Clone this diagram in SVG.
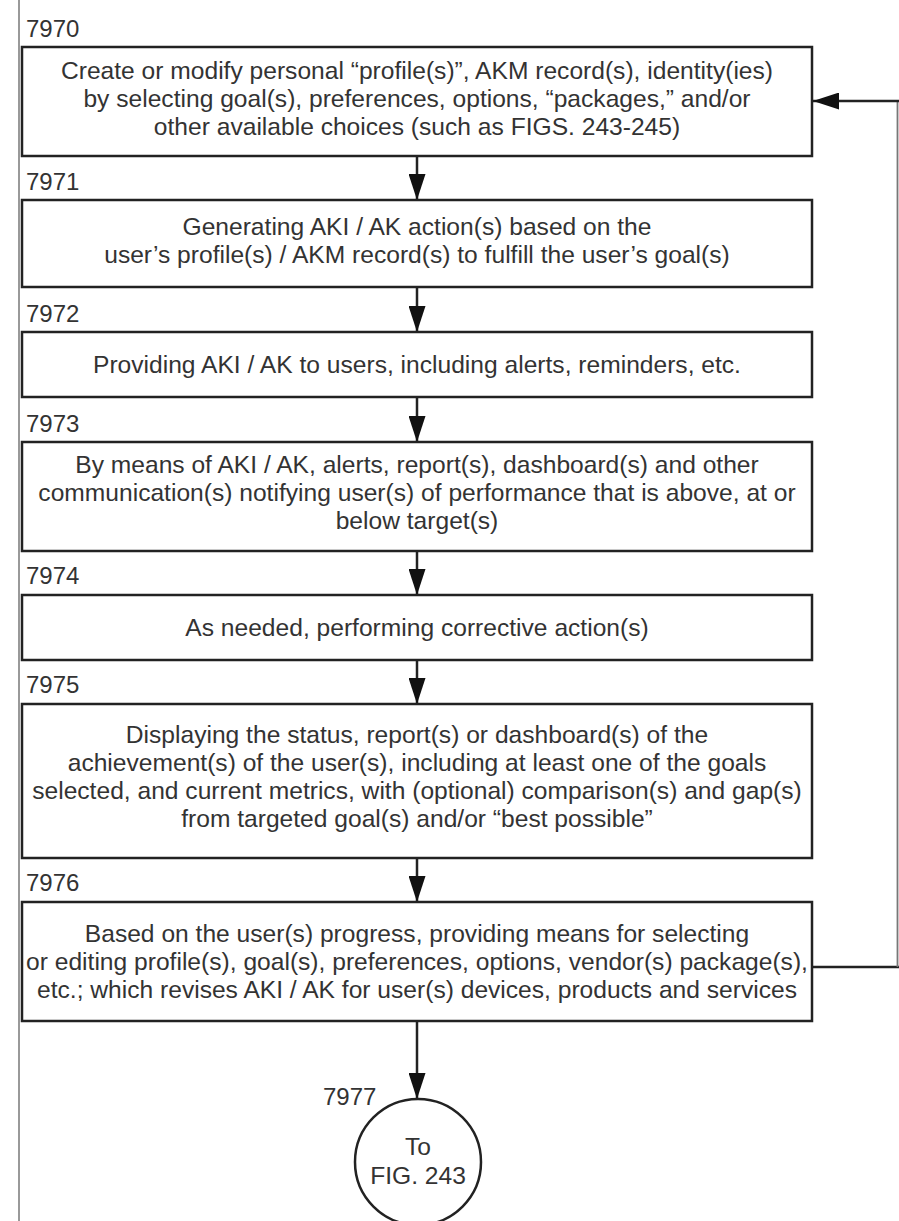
<svg xmlns="http://www.w3.org/2000/svg" width="899" height="1221" viewBox="0 0 899 1221">
<style>
  .box { fill: #fff; stroke: #222; stroke-width: 2.5; }
  .t { font-family: "Liberation Sans", Arial, sans-serif; font-size: 24.6px; fill: #333; text-anchor: middle; }
  .lbl { font-family: "Liberation Sans", Arial, sans-serif; font-size: 24px; fill: #333; }
  .conn { fill: none; stroke: #222; stroke-width: 2.5; }
  .connv { fill: none; stroke: #777; stroke-width: 1.8; }
</style>
<defs>
  <marker id="arr" markerUnits="userSpaceOnUse" markerWidth="27" markerHeight="17" refX="26" refY="8.5" orient="auto">
    <path d="M0,0 L26,8.5 L0,17 Z" fill="#111"/>
  </marker>
</defs>
<rect width="899" height="1221" fill="#fff"/>
<line x1="19" y1="0" x2="19" y2="1221" stroke="#999" stroke-width="2"/>

<g id="connectors">
  <line class="conn" x1="417" y1="156" x2="417" y2="200" marker-end="url(#arr)"/>
  <line class="conn" x1="417" y1="287" x2="417" y2="332" marker-end="url(#arr)"/>
  <line class="conn" x1="417" y1="397" x2="417" y2="442" marker-end="url(#arr)"/>
  <line class="conn" x1="417" y1="551" x2="417" y2="595" marker-end="url(#arr)"/>
  <line class="conn" x1="417" y1="660" x2="417" y2="704" marker-end="url(#arr)"/>
  <line class="conn" x1="417" y1="858" x2="417" y2="902" marker-end="url(#arr)"/>
  <line class="conn" x1="417" y1="1021" x2="417" y2="1099" marker-end="url(#arr)"/>
  <line class="conn" x1="812" y1="967" x2="899" y2="967"/>
  <line class="connv" x1="897.5" y1="101" x2="897.5" y2="967"/>
  <line class="conn" x1="899" y1="101" x2="813" y2="101" marker-end="url(#arr)"/>
</g>

<g id="n7970">
  <text class="lbl" x="26" y="37">7970</text>
  <rect class="box" x="22" y="47" width="790" height="109"/>
  <text class="t" x="417" y="79">Create or modify personal “profile(s)”, AKM record(s), identity(ies)</text>
  <text class="t" x="417" y="107">by selecting goal(s), preferences, options, “packages,” and/or</text>
  <text class="t" x="417" y="135">other available choices (such as FIGS. 243-245)</text>
</g>

<g id="n7971">
  <text class="lbl" x="26" y="190">7971</text>
  <rect class="box" x="22" y="200" width="790" height="87"/>
  <text class="t" x="417" y="235">Generating AKI / AK action(s) based on the</text>
  <text class="t" x="417" y="263">user’s profile(s) / AKM record(s) to fulfill the user’s goal(s)</text>
</g>

<g id="n7972">
  <text class="lbl" x="26" y="322">7972</text>
  <rect class="box" x="22" y="332" width="790" height="65"/>
  <text class="t" x="417" y="373">Providing AKI / AK to users, including alerts, reminders, etc.</text>
</g>

<g id="n7973">
  <text class="lbl" x="26" y="432">7973</text>
  <rect class="box" x="22" y="442" width="790" height="109"/>
  <text class="t" x="417" y="473">By means of AKI / AK, alerts, report(s), dashboard(s) and other</text>
  <text class="t" x="417" y="501">communication(s) notifying user(s) of performance that is above, at or</text>
  <text class="t" x="417" y="529">below target(s)</text>
</g>

<g id="n7974">
  <text class="lbl" x="26" y="584">7974</text>
  <rect class="box" x="22" y="595" width="790" height="65"/>
  <text class="t" x="417" y="636">As needed, performing corrective action(s)</text>
</g>

<g id="n7975">
  <text class="lbl" x="26" y="693">7975</text>
  <rect class="box" x="22" y="704" width="790" height="154"/>
  <text class="t" x="417" y="743">Displaying the status, report(s) or dashboard(s) of the</text>
  <text class="t" x="417" y="771">achievement(s) of the user(s), including at least one of the goals</text>
  <text class="t" x="417" y="799">selected, and current metrics, with (optional) comparison(s) and gap(s)</text>
  <text class="t" x="417" y="827">from targeted goal(s) and/or “best possible”</text>
</g>

<g id="n7976">
  <text class="lbl" x="26" y="891">7976</text>
  <rect class="box" x="22" y="902" width="790" height="119"/>
  <text class="t" x="417" y="942">Based on the user(s) progress, providing means for selecting</text>
  <text class="t" x="417" y="970">or editing profile(s), goal(s), preferences, options, vendor(s) package(s),</text>
  <text class="t" x="417" y="998">etc.; which revises AKI / AK for user(s) devices, products and services</text>
</g>

<g id="n7977">
  <text class="lbl" x="323" y="1105">7977</text>
  <circle cx="418" cy="1162" r="63" fill="#fff" stroke="#222" stroke-width="2.5"/>
  <text class="t" x="418" y="1155">To</text>
  <text class="t" x="418" y="1184">FIG. 243</text>
</g>
</svg>
